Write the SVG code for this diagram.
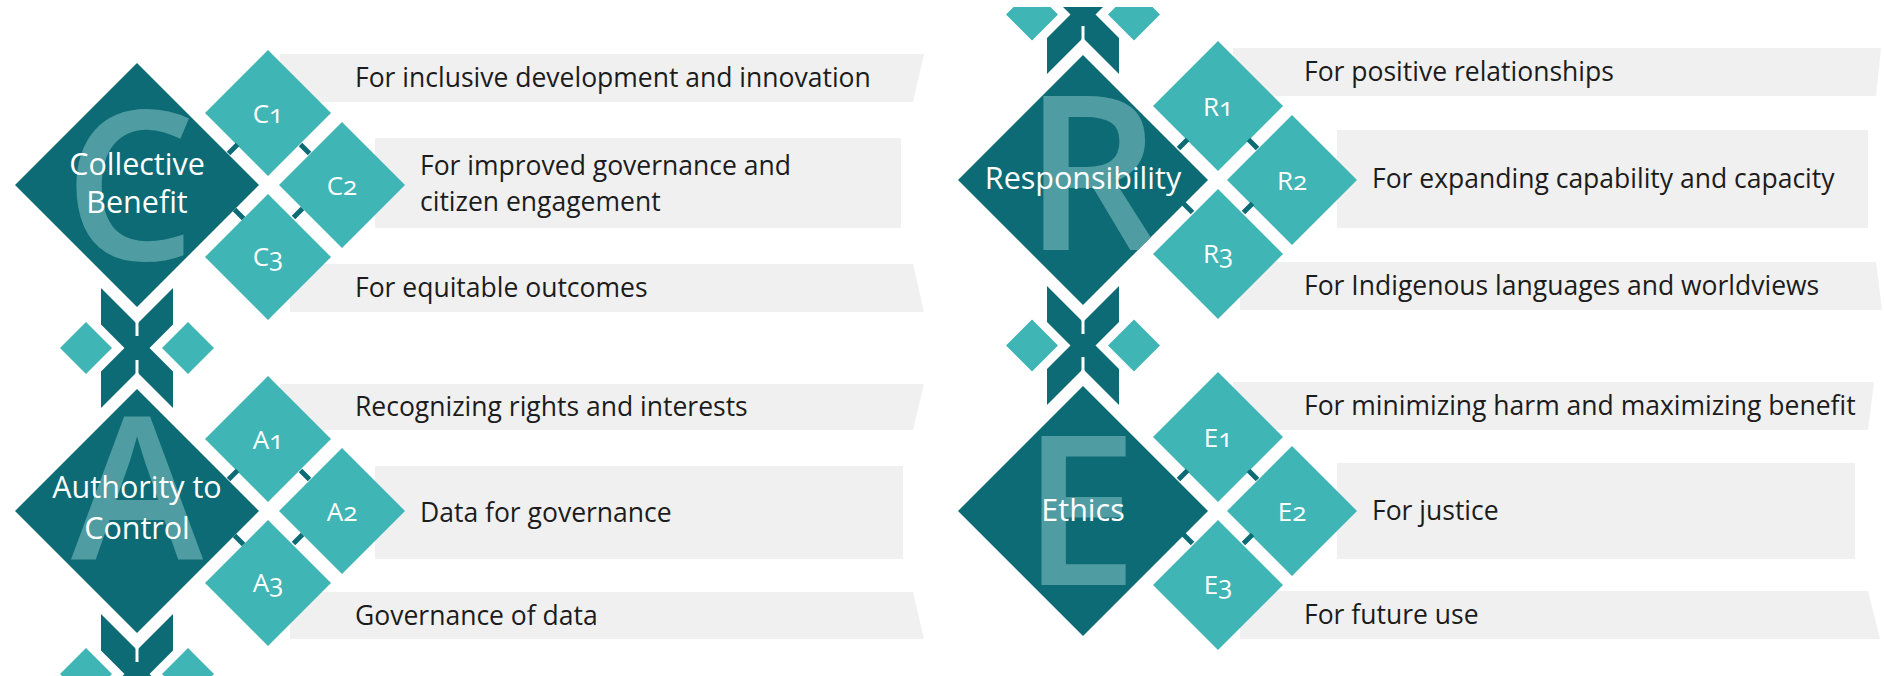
<svg xmlns="http://www.w3.org/2000/svg" width="1884" height="676" viewBox="0 0 1884 676">
<defs>
<style>
.bar{fill:#f0f0f0}
.t{font-family:"Open Sans","Noto Sans","DejaVu Sans",sans-serif;font-size:26.5px;fill:#1c1c1c}
.big{fill:#0c6b74}
.sm{fill:#3fb5b5}
.gap{fill:#ffffff}
.lbl{font-family:"Open Sans","Noto Sans","DejaVu Sans",sans-serif;font-size:30.5px;fill:#ffffff;text-anchor:middle}
.sl{font-family:"Open Sans","Noto Sans","DejaVu Sans",sans-serif;font-size:26px;fill:#ffffff;text-anchor:middle;font-variant-numeric:oldstyle-nums}
.wm{font-family:"Open Sans","Noto Sans","DejaVu Sans",sans-serif;font-weight:600;fill:#4f9ca2;text-anchor:middle}
.tick{stroke:#0c6b74;stroke-width:5}
.slit{stroke:#ffffff;stroke-width:3}
</style>
<clipPath id="clipC"><polygon points="137,63 259,185 137,307 15,185"/></clipPath>
<clipPath id="clipA"><polygon points="137,389 259,511 137,633 15,511"/></clipPath>
<clipPath id="clipR"><polygon points="1083,55 1208,180 1083,305 958,180"/></clipPath>
<clipPath id="clipE"><polygon points="1083,386 1208,511 1083,636 958,511"/></clipPath>
<clipPath id="clipTop"><rect x="0" y="7" width="1884" height="669"/></clipPath>
</defs>
<rect width="1884" height="676" fill="#ffffff"/>

<g id="bars">
<polygon class="bar" points="280,54 924,54 913,102 280,102"/>
<polygon class="bar" points="375,138 901,138 901,228 375,228"/>
<polygon class="bar" points="290,264 913,264 924,312 290,312"/>
<polygon class="bar" points="280,384 924,384 913,430 280,430"/>
<polygon class="bar" points="375,466 903,466 903,559 375,559"/>
<polygon class="bar" points="290,592 913,592 924,639 290,639"/>
<polygon class="bar" points="1233,48 1881,48 1876,96 1233,96"/>
<polygon class="bar" points="1337,130 1868,130 1868,228 1337,228"/>
<polygon class="bar" points="1240,262 1876,262 1882,310 1240,310"/>
<polygon class="bar" points="1233,382 1874,382 1868,430 1233,430"/>
<polygon class="bar" points="1337,463 1855,463 1855,559 1337,559"/>
<polygon class="bar" points="1240,591 1868,591 1880,639 1240,639"/>
</g>

<g id="connectors" clip-path="url(#clipTop)">
<rect class="big" x="101" y="185" width="72" height="491"/>
<rect class="big" x="1047" y="0" width="72" height="511"/>
<polygon class="gap" points="86,309.5 124.5,348 86,386.5 47.5,348"/>
<polygon class="gap" points="188,309.5 226.5,348 188,386.5 149.5,348"/>
<polygon class="gap" points="86,635.5 124.5,674 86,712.5 47.5,674"/>
<polygon class="gap" points="188,635.5 226.5,674 188,712.5 149.5,674"/>
<polygon class="gap" points="1032,307 1070.5,345.5 1032,384 993.5,345.5"/>
<polygon class="gap" points="1134,307 1172.5,345.5 1134,384 1095.5,345.5"/>
<polygon class="gap" points="1032,-24 1070.5,14.5 1032,53 993.5,14.5"/>
<polygon class="gap" points="1134,-24 1172.5,14.5 1134,53 1095.5,14.5"/>
<polygon class="sm" points="86,322 112,348 86,374 60,348"/>
<polygon class="sm" points="188,322 214,348 188,374 162,348"/>
<polygon class="sm" points="86,648 112,674 86,700 60,674"/>
<polygon class="sm" points="188,648 214,674 188,700 162,674"/>
<polygon class="sm" points="1032,319.5 1058,345.5 1032,371.5 1006,345.5"/>
<polygon class="sm" points="1134,319.5 1160,345.5 1134,371.5 1108,345.5"/>
<polygon class="sm" points="1032,-11.5 1058,14.5 1032,40.5 1006,14.5"/>
<polygon class="sm" points="1134,-11.5 1160,14.5 1134,40.5 1108,14.5"/>
<line class="slit" x1="137" y1="320" x2="137" y2="336"/>
<line class="slit" x1="137" y1="360" x2="137" y2="376"/>
<line class="slit" x1="137" y1="646" x2="137" y2="662"/>
<line class="slit" x1="1083" y1="26" x2="1083" y2="42"/>
<line class="slit" x1="1083" y1="318" x2="1083" y2="334"/>
<line class="slit" x1="1083" y1="357" x2="1083" y2="373"/>
</g>

<g id="node-C">
<polygon class="gap" points="137,46 276,185 137,324 -2,185"/>
<polygon class="big" points="137,63 259,185 137,307 15,185"/>
<text class="wm" x="130" y="260" font-size="208" clip-path="url(#clipC)">C</text>
<text class="lbl" x="137" y="175">Collective</text>
<text class="lbl" x="137" y="213">Benefit</text>
</g>
<g id="node-A">
<polygon class="gap" points="137,372 276,511 137,650 -2,511"/>
<polygon class="big" points="137,389 259,511 137,633 15,511"/>
<text class="wm" x="137" y="560" font-size="200" clip-path="url(#clipA)">A</text>
<text class="lbl" x="137" y="498">Authority to</text>
<text class="lbl" x="137" y="539">Control</text>
</g>
<g id="node-R">
<polygon class="gap" points="1083,38 1225,180 1083,322 941,180"/>
<polygon class="big" points="1083,55 1208,180 1083,305 958,180"/>
<text class="wm" x="1092" y="250" font-size="215" clip-path="url(#clipR)">R</text>
<text class="lbl" x="1083" y="189">Responsibility</text>
</g>
<g id="node-E">
<polygon class="gap" points="1083,369 1225,511 1083,653 941,511"/>
<polygon class="big" points="1083,386 1208,511 1083,636 958,511"/>
<text class="wm" x="1080" y="585" font-size="208" clip-path="url(#clipE)">E</text>
<text class="lbl" x="1083" y="521">Ethics</text>
</g>

<g id="node-C1"><polygon class="sm" points="268,50 331,113 268,176 205,113"/><text class="sl" x="268" y="123">C1</text></g>
<g id="node-C2"><polygon class="sm" points="342,122 405,185 342,248 279,185"/><text class="sl" x="342" y="195">C2</text></g>
<g id="node-C3"><polygon class="sm" points="268,194 331,257 268,320 205,257"/><text class="sl" x="268" y="266">C3</text></g>
<g id="node-A1"><polygon class="sm" points="268,376 331,439 268,502 205,439"/><text class="sl" x="268" y="449">A1</text></g>
<g id="node-A2"><polygon class="sm" points="342,448 405,511 342,574 279,511"/><text class="sl" x="342" y="521">A2</text></g>
<g id="node-A3"><polygon class="sm" points="268,520 331,583 268,646 205,583"/><text class="sl" x="268" y="592">A3</text></g>
<g id="node-R1"><polygon class="sm" points="1218,41 1283,106 1218,171 1153,106"/><text class="sl" x="1218" y="116">R1</text></g>
<g id="node-R2"><polygon class="sm" points="1292,115 1357,180 1292,245 1227,180"/><text class="sl" x="1292" y="190">R2</text></g>
<g id="node-R3"><polygon class="sm" points="1218,189 1283,254 1218,319 1153,254"/><text class="sl" x="1218" y="263">R3</text></g>
<g id="node-E1"><polygon class="sm" points="1218,372 1283,437 1218,502 1153,437"/><text class="sl" x="1218" y="447">E1</text></g>
<g id="node-E2"><polygon class="sm" points="1292,446 1357,511 1292,576 1227,511"/><text class="sl" x="1292" y="521">E2</text></g>
<g id="node-E3"><polygon class="sm" points="1218,520 1283,585 1218,650 1153,585"/><text class="sl" x="1218" y="594">E3</text></g>

<g id="ticks">
<line class="tick" x1="228.5" y1="153.5" x2="237.5" y2="144.5"/>
<line class="tick" x1="300.5" y1="144.5" x2="309.5" y2="153.5"/>
<line class="tick" x1="234.5" y1="209.5" x2="243.5" y2="218.5"/>
<line class="tick" x1="293.5" y1="217.5" x2="302.5" y2="208.5"/>
<line class="tick" x1="228.5" y1="479.5" x2="237.5" y2="470.5"/>
<line class="tick" x1="300.5" y1="470.5" x2="309.5" y2="479.5"/>
<line class="tick" x1="234.5" y1="535.5" x2="243.5" y2="544.5"/>
<line class="tick" x1="293.5" y1="543.5" x2="302.5" y2="534.5"/>
<line class="tick" x1="1178.5" y1="148.5" x2="1187.5" y2="139.5"/>
<line class="tick" x1="1248.5" y1="139.5" x2="1257.5" y2="148.5"/>
<line class="tick" x1="1183.5" y1="203.5" x2="1192.5" y2="212.5"/>
<line class="tick" x1="1243.5" y1="212.5" x2="1252.5" y2="203.5"/>
<line class="tick" x1="1178.5" y1="479.5" x2="1187.5" y2="470.5"/>
<line class="tick" x1="1248.5" y1="470.5" x2="1257.5" y2="479.5"/>
<line class="tick" x1="1183.5" y1="534.5" x2="1192.5" y2="543.5"/>
<line class="tick" x1="1243.5" y1="543.5" x2="1252.5" y2="534.5"/>
</g>

<g id="texts">
<text class="t" x="355" y="87">For inclusive development and innovation</text>
<text class="t" x="420" y="175">For improved governance and</text>
<text class="t" x="420" y="211">citizen engagement</text>
<text class="t" x="355" y="297">For equitable outcomes</text>
<text class="t" x="355" y="416">Recognizing rights and interests</text>
<text class="t" x="420" y="522">Data for governance</text>
<text class="t" x="355" y="625">Governance of data</text>
<text class="t" x="1304" y="81">For positive relationships</text>
<text class="t" x="1372" y="188">For expanding capability and capacity</text>
<text class="t" x="1304" y="295">For Indigenous languages and worldviews</text>
<text class="t" x="1304" y="415">For minimizing harm and maximizing benefit</text>
<text class="t" x="1372" y="520">For justice</text>
<text class="t" x="1304" y="624">For future use</text>
</g>
</svg>
